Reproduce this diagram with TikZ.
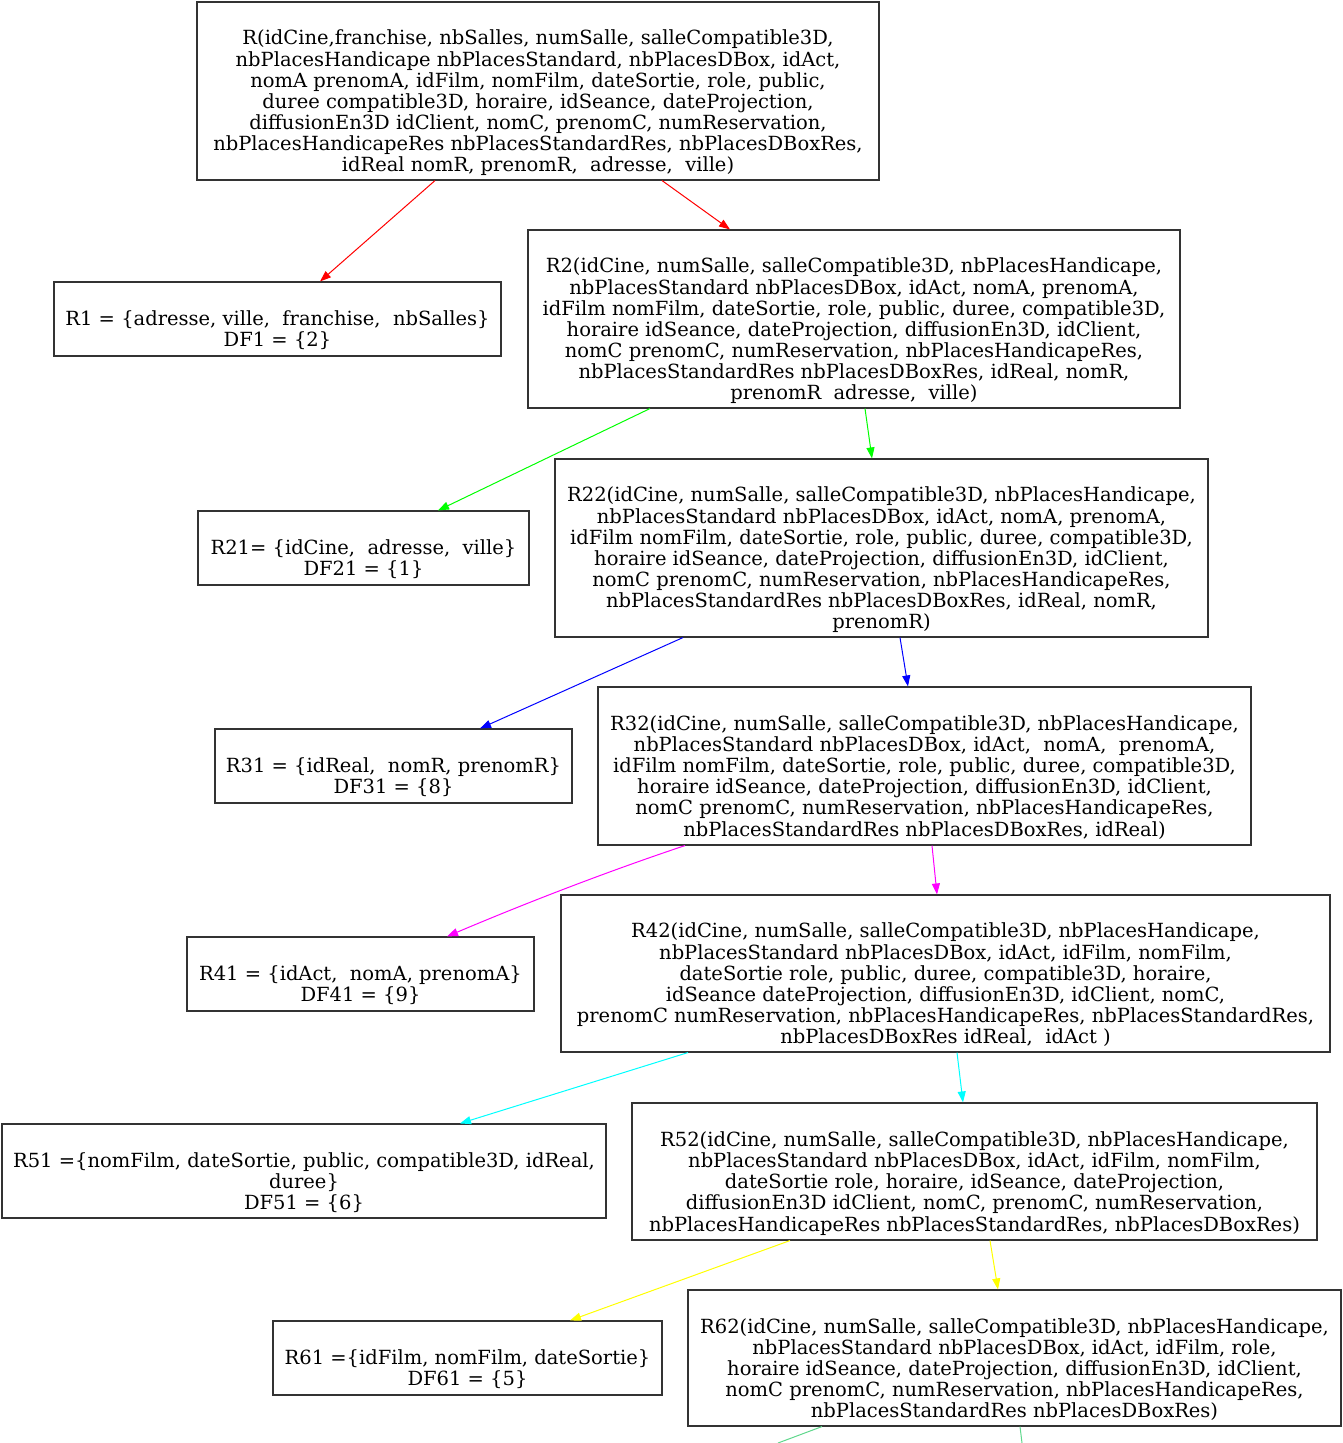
\documentclass[tikz,border=0pt]{standalone}
\usepackage{fontspec}
\setmainfont{DejaVu Serif}
\usetikzlibrary{arrows.meta}
\definecolor{boxline}{HTML}{333333}
\definecolor{mint}{RGB}{95,215,140}
\definecolor{pred}{rgb}{1,0,0}
\definecolor{pgreen}{rgb}{0,1,0}
\definecolor{pblue}{rgb}{0,0,1}
\definecolor{pmagenta}{rgb}{1,0,1}
\definecolor{pcyan}{rgb}{0,1,1}
\definecolor{pyellow}{rgb}{1,1,0}
% multi-line label with a blank first row, as the relation boxes show
\newcommand{\rellabel}[1]{\begin{tabular}{@{}c@{}}\\[5pt]#1\end{tabular}}
\begin{document}
\begin{tikzpicture}[x=1pt,y=-1pt,
  rel/.style={draw=boxline, line width=1.1pt, fill=white, inner sep=0pt,
    font=\fontsize{19.5}{21}\selectfont, anchor=center},
  dep/.style={line width=1pt, -{Triangle[length=11pt,width=8pt]}},
]
\useasboundingbox (0,0) rectangle (1343,1443);

\node[rel, minimum width=682pt, minimum height=178pt] (R) at (538,91)
  {\rellabel{
   R(idCine,franchise, nbSalles, numSalle, salleCompatible3D,\\
   nbPlacesHandicape nbPlacesStandard, nbPlacesDBox, idAct,\\
   nomA prenomA, idFilm, nomFilm, dateSortie, role, public,\\
   duree compatible3D, horaire, idSeance, dateProjection,\\
   diffusionEn3D idClient, nomC, prenomC, numReservation,\\
   nbPlacesHandicapeRes nbPlacesStandardRes, nbPlacesDBoxRes,\\
   idReal nomR, prenomR,\ \ adresse,\ \ ville)}};

\node[rel, minimum width=447pt, minimum height=74pt] (R1) at (277.5,319)
  {\rellabel{
   R1 = \{adresse, ville,\ \ franchise,\ \ nbSalles\}\\
   DF1 = \{2\}}};

\node[rel, minimum width=652pt, minimum height=178pt] (R2) at (854,319)
  {\rellabel{
   R2(idCine, numSalle, salleCompatible3D, nbPlacesHandicape,\\
   nbPlacesStandard nbPlacesDBox, idAct, nomA, prenomA,\\
   idFilm nomFilm, dateSortie, role, public, duree, compatible3D,\\
   horaire idSeance, dateProjection, diffusionEn3D, idClient,\\
   nomC prenomC, numReservation, nbPlacesHandicapeRes,\\
   nbPlacesStandardRes nbPlacesDBoxRes, idReal, nomR,\\
   prenomR\ \ adresse,\ \ ville)}};

\node[rel, minimum width=331pt, minimum height=74pt] (R21) at (363.5,548)
  {\rellabel{
   R21= \{idCine,\ \ adresse,\ \ ville\}\\
   DF21 = \{1\}}};

\node[rel, minimum width=653pt, minimum height=178pt] (R22) at (881.5,548)
  {\rellabel{
   R22(idCine, numSalle, salleCompatible3D, nbPlacesHandicape,\\
   nbPlacesStandard nbPlacesDBox, idAct, nomA, prenomA,\\
   idFilm nomFilm, dateSortie, role, public, duree, compatible3D,\\
   horaire idSeance, dateProjection, diffusionEn3D, idClient,\\
   nomC prenomC, numReservation, nbPlacesHandicapeRes,\\
   nbPlacesStandardRes nbPlacesDBoxRes, idReal, nomR,\\
   prenomR)}};

\node[rel, minimum width=357pt, minimum height=74pt] (R31) at (393.5,766)
  {\rellabel{
   R31 = \{idReal,\ \ nomR, prenomR\}\\
   DF31 = \{8\}}};

\node[rel, minimum width=653pt, minimum height=158pt] (R32) at (924.5,766)
  {\rellabel{
   R32(idCine, numSalle, salleCompatible3D, nbPlacesHandicape,\\
   nbPlacesStandard nbPlacesDBox, idAct,\ \ nomA,\ \ prenomA,\\
   idFilm nomFilm, dateSortie, role, public, duree, compatible3D,\\
   horaire idSeance, dateProjection, diffusionEn3D, idClient,\\
   nomC prenomC, numReservation, nbPlacesHandicapeRes,\\
   nbPlacesStandardRes nbPlacesDBoxRes, idReal)}};

\node[rel, minimum width=347pt, minimum height=74pt] (R41) at (360.5,974)
  {\rellabel{
   R41 = \{idAct,\ \ nomA, prenomA\}\\
   DF41 = \{9\}}};

\node[rel, minimum width=769pt, minimum height=157pt] (R42) at (945.5,973.5)
  {\rellabel{
   R42(idCine, numSalle, salleCompatible3D, nbPlacesHandicape,\\
   nbPlacesStandard nbPlacesDBox, idAct, idFilm, nomFilm,\\
   dateSortie role, public, duree, compatible3D, horaire,\\
   idSeance dateProjection, diffusionEn3D, idClient, nomC,\\
   prenomC numReservation, nbPlacesHandicapeRes, nbPlacesStandardRes,\\
   nbPlacesDBoxRes idReal,\ \ idAct )}};

\node[rel, minimum width=604pt, minimum height=94pt] (R51) at (304,1171)
  {\rellabel{
   R51 =\{nomFilm, dateSortie, public, compatible3D, idReal,\\
   duree\}\\
   DF51 = \{6\}}};

\node[rel, minimum width=685pt, minimum height=137pt] (R52) at (974.5,1171.5)
  {\rellabel{
   R52(idCine, numSalle, salleCompatible3D, nbPlacesHandicape,\\
   nbPlacesStandard nbPlacesDBox, idAct, idFilm, nomFilm,\\
   dateSortie role, horaire, idSeance, dateProjection,\\
   diffusionEn3D idClient, nomC, prenomC, numReservation,\\
   nbPlacesHandicapeRes nbPlacesStandardRes, nbPlacesDBoxRes)}};

\node[rel, minimum width=389pt, minimum height=74pt] (R61) at (467.5,1358)
  {\rellabel{
   R61 =\{idFilm, nomFilm, dateSortie\}\\
   DF61 = \{5\}}};

\node[rel, minimum width=653pt, minimum height=136pt] (R62) at (1014.5,1358)
  {\rellabel{
   R62(idCine, numSalle, salleCompatible3D, nbPlacesHandicape,\\
   nbPlacesStandard nbPlacesDBox, idAct, idFilm, role,\\
   horaire idSeance, dateProjection, diffusionEn3D, idClient,\\
   nomC prenomC, numReservation, nbPlacesHandicapeRes,\\
   nbPlacesStandardRes nbPlacesDBoxRes)}};

% loose ends of the two edges leaving R62 below the frame
\coordinate (out1) at (778,1443);
\coordinate (out2) at (1022,1443);

% decomposition edges
\draw[dep, pred] ([xshift=-103pt]R.south) -- ([xshift=42.5pt]R1.north);
\draw[dep, pred] ([xshift=124pt]R.south) -- ([xshift=-124pt]R2.north);
\draw[dep, pgreen] ([xshift=-204pt]R2.south) -- ([xshift=74.5pt]R21.north);
\draw[dep, pgreen] ([xshift=11pt]R2.south) -- ([xshift=-9.5pt]R22.north);
\draw[dep, pblue] ([xshift=-198.5pt]R22.south) -- ([xshift=86.5pt]R31.north);
\draw[dep, pblue] ([xshift=18.5pt]R22.south) -- ([xshift=-16.5pt]R32.north);
\draw[dep, pmagenta] ([xshift=-239.5pt]R32.south) .. controls (606,872) and (526,903) .. ([xshift=86.5pt]R41.north);
\draw[dep, pmagenta] ([xshift=7.5pt]R32.south) -- ([xshift=-8.5pt]R42.north);
\draw[dep, pcyan] ([xshift=-257.5pt]R42.south) -- ([xshift=156pt]R51.north);
\draw[dep, pcyan] ([xshift=11.5pt]R42.south) -- ([xshift=-11.5pt]R52.north);
\draw[dep, pyellow] ([xshift=-184.5pt]R52.south) -- ([xshift=102.5pt]R61.north);
\draw[dep, pyellow] ([xshift=15.5pt]R52.south) -- ([xshift=-16.5pt]R62.north);
\draw[line width=1pt, mint] ([xshift=-192.5pt]R62.south) -- (out1);
\draw[line width=1pt, mint] ([xshift=5.5pt]R62.south) -- (out2);
\end{tikzpicture}
\end{document}
